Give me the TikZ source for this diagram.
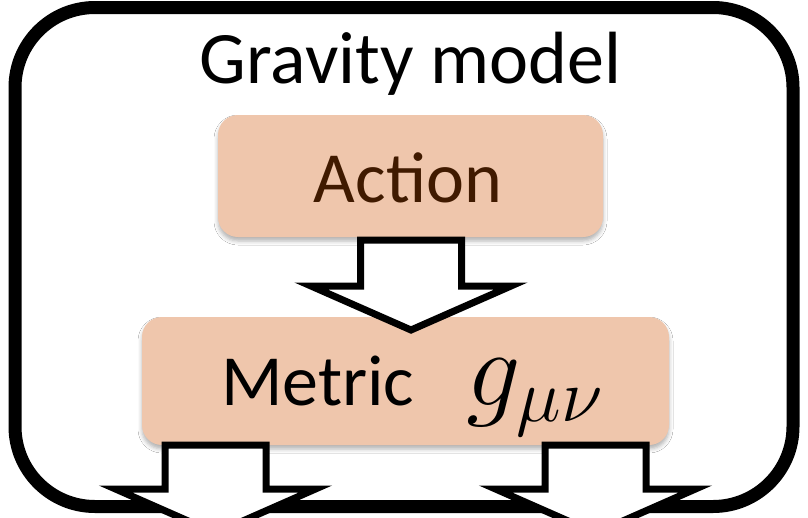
\documentclass[tikz,border=0pt]{standalone}
\usepackage{fix-cm}
\usepackage{fontspec}
\setmainfont{Carlito}
\usetikzlibrary{shadows.blur}
\definecolor{peach}{RGB}{239,198,172}
\definecolor{brownt}{RGB}{64,26,0}
\begin{document}
\begin{tikzpicture}[x=1pt,y=-1pt,
  frame/.style={draw=black, fill=white, line width=13pt, rounded corners=80pt,
    blur shadow={shadow xshift=1pt, shadow yshift=-2pt, shadow blur radius=3pt, shadow opacity=25}},
  boxstyle/.style={fill=peach, draw=none, rounded corners=20pt, inner sep=0pt,
    blur shadow={shadow xshift=0pt, shadow yshift=-4pt, shadow blur radius=4pt, shadow opacity=30}},
  bigtext/.style={font=\fontsize{72}{72}\selectfont, inner sep=0pt, anchor=base},
  blockarrow/.style={draw=black, fill=white, line width=7pt, line join=miter, miter limit=10}]
\useasboundingbox (0,0) rectangle (808,517);

% outer frame
\path[frame] (15,7.5) rectangle (793,506.5);

% title
\node[bigtext, font=\fontsize{74}{74}\selectfont] (title) at (410.5,83) {Gravity model};

% boxes
\node[boxstyle, minimum width=385pt, minimum height=122pt] (action) at (410.5,176) {};
\node[bigtext, text=brownt] (actiontext) at (408,202) {Action};

\node[boxstyle, minimum width=527pt, minimum height=128pt] (metric) at (405.5,381) {};
\node[bigtext, anchor=base west] (metrictext) at (221,405) {Metric};
\node[inner sep=0pt, anchor=base west, font=\fontsize{108}{108}\selectfont] (gtext) at (466,405) {$g_{\mu\nu}$};

% block arrow Action -> Metric
\coordinate (a1) at (411,240);
\draw[blockarrow] (a1) ++(-50.5,0) -- ++(101,0) -- ++(0,46) -- ++(49.5,0) -- ++(-100,44) -- ++(-100,-44) -- ++(49.5,0) -- cycle;

% block arrows leaving Metric
\coordinate (a2) at (215.5,445);
\coordinate (a3) at (595.5,445);
\draw[blockarrow] (a2) ++(-50.5,0) -- ++(101,0) -- ++(0,44) -- ++(49.5,0) -- ++(-100,44) -- ++(-100,-44) -- ++(49.5,0) -- cycle;
\draw[blockarrow] (a3) ++(-50.5,0) -- ++(101,0) -- ++(0,44) -- ++(49.5,0) -- ++(-100,44) -- ++(-100,-44) -- ++(49.5,0) -- cycle;
\end{tikzpicture}
\end{document}
